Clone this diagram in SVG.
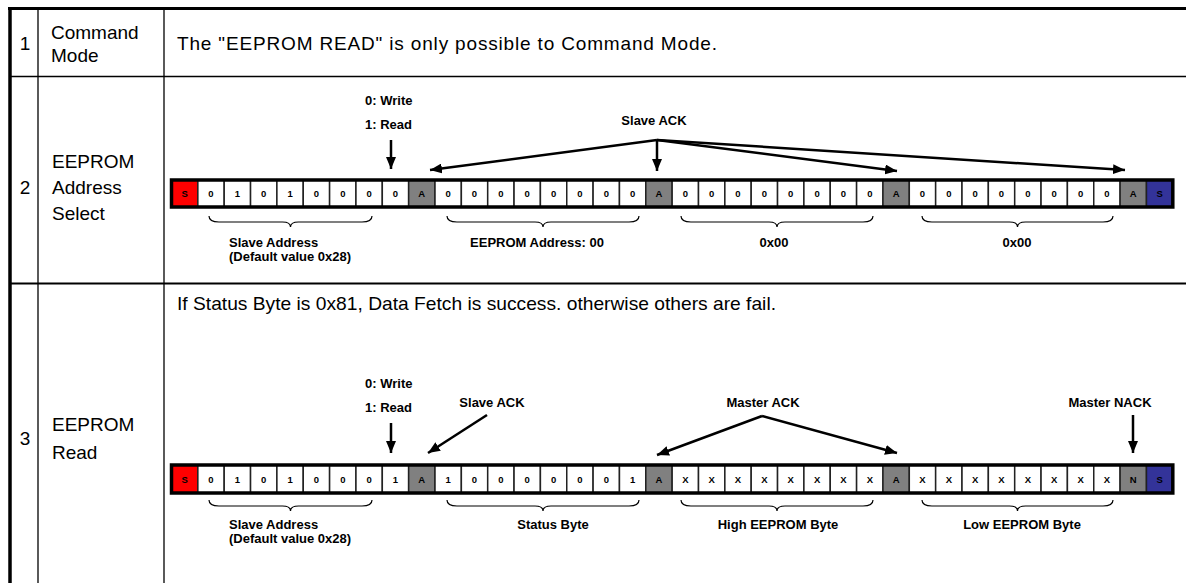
<svg xmlns="http://www.w3.org/2000/svg" width="1186" height="583" viewBox="0 0 1186 583">
<style>
.tbl{stroke:#000;fill:none}
.tt{font-family:"Liberation Sans",Arial,sans-serif;font-size:19px;fill:#000}
.lb{font-family:"Liberation Sans",Arial,sans-serif;font-size:13px;font-weight:bold;fill:#000}
.ct{font-family:"Liberation Sans",Arial,sans-serif;font-size:9.5px;font-weight:bold;fill:#000;text-anchor:middle}
.w{fill:#fff;stroke:#222;stroke-width:1.5}
.a{fill:#808080;stroke:#222;stroke-width:1.5}
.r{fill:#ff0000;stroke:#222;stroke-width:1.5}
.b{fill:#333399;stroke:#222;stroke-width:1.5}
.fr{fill:none;stroke:#000;stroke-width:3.5}
.br{fill:none;stroke:#000;stroke-width:1.2}
.ar{fill:none;stroke:#000;stroke-width:2.5;marker-end:url(#ah)}
</style>
<defs>
<marker id="ah" viewBox="0 0 12 10" refX="12" refY="5" markerWidth="12" markerHeight="10" markerUnits="userSpaceOnUse" orient="auto">
<path d="M0,0 L12,5 L0,10 Z" fill="#000"/>
</marker>
</defs>
<rect width="1186" height="583" fill="#fff"/>
<g id="table">
<line class="tbl" x1="8" y1="8.5" x2="1186" y2="8.5" stroke-width="3"/>
<line class="tbl" x1="10" y1="7" x2="10" y2="583" stroke-width="3.5"/>
<line class="tbl" x1="38" y1="8" x2="38" y2="583" stroke-width="1.3"/>
<line class="tbl" x1="164" y1="8" x2="164" y2="583" stroke-width="1.3"/>
<line class="tbl" x1="10" y1="76.5" x2="1186" y2="76.5" stroke-width="1.6"/>
<line class="tbl" x1="10" y1="283.5" x2="1186" y2="283.5" stroke-width="2"/>
</g>
<g id="row1">
<text class="tt" x="25" y="50" text-anchor="middle">1</text>
<text class="tt" x="51" y="39">Command</text>
<text class="tt" x="51" y="62">Mode</text>
<text class="tt" x="177" y="50" textLength="540" lengthAdjust="spacing">The "EEPROM READ" is only possible to Command Mode.</text>
</g>
<g id="row2-labels">
<text class="tt" x="25" y="194" text-anchor="middle">2</text>
<text class="tt" x="52" y="168">EEPROM</text>
<text class="tt" x="52" y="194">Address</text>
<text class="tt" x="52" y="220">Select</text>
</g>
<g id="row3-labels">
<text class="tt" x="25" y="445" text-anchor="middle">3</text>
<text class="tt" x="52" y="431">EEPROM</text>
<text class="tt" x="52" y="459">Read</text>
<text class="tt" x="177" y="310" textLength="599" lengthAdjust="spacingAndGlyphs">If Status Byte is 0x81, Data Fetch is success. otherwise others are fail.</text>
</g>
<g id="strip2">
<rect class="r" x="171.5" y="180" width="26.35" height="27"/>
<rect class="w" x="197.85" y="180" width="26.35" height="27"/>
<rect class="w" x="224.2" y="180" width="26.35" height="27"/>
<rect class="w" x="250.55" y="180" width="26.35" height="27"/>
<rect class="w" x="276.9" y="180" width="26.35" height="27"/>
<rect class="w" x="303.25" y="180" width="26.35" height="27"/>
<rect class="w" x="329.6" y="180" width="26.35" height="27"/>
<rect class="w" x="355.95" y="180" width="26.35" height="27"/>
<rect class="w" x="382.3" y="180" width="26.35" height="27"/>
<rect class="a" x="408.65" y="180" width="26.35" height="27"/>
<rect class="w" x="435" y="180" width="26.35" height="27"/>
<rect class="w" x="461.35" y="180" width="26.35" height="27"/>
<rect class="w" x="487.7" y="180" width="26.35" height="27"/>
<rect class="w" x="514.05" y="180" width="26.35" height="27"/>
<rect class="w" x="540.4" y="180" width="26.35" height="27"/>
<rect class="w" x="566.75" y="180" width="26.35" height="27"/>
<rect class="w" x="593.1" y="180" width="26.35" height="27"/>
<rect class="w" x="619.45" y="180" width="26.35" height="27"/>
<rect class="a" x="645.8" y="180" width="26.35" height="27"/>
<rect class="w" x="672.15" y="180" width="26.35" height="27"/>
<rect class="w" x="698.5" y="180" width="26.35" height="27"/>
<rect class="w" x="724.85" y="180" width="26.35" height="27"/>
<rect class="w" x="751.2" y="180" width="26.35" height="27"/>
<rect class="w" x="777.55" y="180" width="26.35" height="27"/>
<rect class="w" x="803.9" y="180" width="26.35" height="27"/>
<rect class="w" x="830.25" y="180" width="26.35" height="27"/>
<rect class="w" x="856.6" y="180" width="26.35" height="27"/>
<rect class="a" x="882.95" y="180" width="26.35" height="27"/>
<rect class="w" x="909.3" y="180" width="26.35" height="27"/>
<rect class="w" x="935.65" y="180" width="26.35" height="27"/>
<rect class="w" x="962" y="180" width="26.35" height="27"/>
<rect class="w" x="988.35" y="180" width="26.35" height="27"/>
<rect class="w" x="1014.7" y="180" width="26.35" height="27"/>
<rect class="w" x="1041.05" y="180" width="26.35" height="27"/>
<rect class="w" x="1067.4" y="180" width="26.35" height="27"/>
<rect class="w" x="1093.75" y="180" width="26.35" height="27"/>
<rect class="a" x="1120.1" y="180" width="26.35" height="27"/>
<rect class="b" x="1146.45" y="180" width="26.35" height="27"/>
<rect class="fr" x="171.5" y="180" width="1001.3" height="27"/>
<text class="ct" y="197"><tspan x="184.7">S</tspan><tspan x="211">0</tspan><tspan x="237.4">1</tspan><tspan x="263.7">0</tspan><tspan x="290.1">1</tspan><tspan x="316.4">0</tspan><tspan x="342.8">0</tspan><tspan x="369.1">0</tspan><tspan x="395.5">0</tspan><tspan x="421.8">A</tspan><tspan x="448.2">0</tspan><tspan x="474.5">0</tspan><tspan x="500.9">0</tspan><tspan x="527.2">0</tspan><tspan x="553.6">0</tspan><tspan x="579.9">0</tspan><tspan x="606.3">0</tspan><tspan x="632.6">0</tspan><tspan x="659">A</tspan><tspan x="685.3">0</tspan><tspan x="711.7">0</tspan><tspan x="738">0</tspan><tspan x="764.4">0</tspan><tspan x="790.7">0</tspan><tspan x="817.1">0</tspan><tspan x="843.4">0</tspan><tspan x="869.8">0</tspan><tspan x="896.1">A</tspan><tspan x="922.5">0</tspan><tspan x="948.8">0</tspan><tspan x="975.2">0</tspan><tspan x="1001.5">0</tspan><tspan x="1027.9">0</tspan><tspan x="1054.2">0</tspan><tspan x="1080.6">0</tspan><tspan x="1106.9">0</tspan><tspan x="1133.3">A</tspan><tspan x="1159.6">S</tspan></text>
</g>
<g id="strip3">
<rect class="r" x="171.5" y="465" width="26.35" height="28"/>
<rect class="w" x="197.85" y="465" width="26.35" height="28"/>
<rect class="w" x="224.2" y="465" width="26.35" height="28"/>
<rect class="w" x="250.55" y="465" width="26.35" height="28"/>
<rect class="w" x="276.9" y="465" width="26.35" height="28"/>
<rect class="w" x="303.25" y="465" width="26.35" height="28"/>
<rect class="w" x="329.6" y="465" width="26.35" height="28"/>
<rect class="w" x="355.95" y="465" width="26.35" height="28"/>
<rect class="w" x="382.3" y="465" width="26.35" height="28"/>
<rect class="a" x="408.65" y="465" width="26.35" height="28"/>
<rect class="w" x="435" y="465" width="26.35" height="28"/>
<rect class="w" x="461.35" y="465" width="26.35" height="28"/>
<rect class="w" x="487.7" y="465" width="26.35" height="28"/>
<rect class="w" x="514.05" y="465" width="26.35" height="28"/>
<rect class="w" x="540.4" y="465" width="26.35" height="28"/>
<rect class="w" x="566.75" y="465" width="26.35" height="28"/>
<rect class="w" x="593.1" y="465" width="26.35" height="28"/>
<rect class="w" x="619.45" y="465" width="26.35" height="28"/>
<rect class="a" x="645.8" y="465" width="26.35" height="28"/>
<rect class="w" x="672.15" y="465" width="26.35" height="28"/>
<rect class="w" x="698.5" y="465" width="26.35" height="28"/>
<rect class="w" x="724.85" y="465" width="26.35" height="28"/>
<rect class="w" x="751.2" y="465" width="26.35" height="28"/>
<rect class="w" x="777.55" y="465" width="26.35" height="28"/>
<rect class="w" x="803.9" y="465" width="26.35" height="28"/>
<rect class="w" x="830.25" y="465" width="26.35" height="28"/>
<rect class="w" x="856.6" y="465" width="26.35" height="28"/>
<rect class="a" x="882.95" y="465" width="26.35" height="28"/>
<rect class="w" x="909.3" y="465" width="26.35" height="28"/>
<rect class="w" x="935.65" y="465" width="26.35" height="28"/>
<rect class="w" x="962" y="465" width="26.35" height="28"/>
<rect class="w" x="988.35" y="465" width="26.35" height="28"/>
<rect class="w" x="1014.7" y="465" width="26.35" height="28"/>
<rect class="w" x="1041.05" y="465" width="26.35" height="28"/>
<rect class="w" x="1067.4" y="465" width="26.35" height="28"/>
<rect class="w" x="1093.75" y="465" width="26.35" height="28"/>
<rect class="a" x="1120.1" y="465" width="26.35" height="28"/>
<rect class="b" x="1146.45" y="465" width="26.35" height="28"/>
<rect class="fr" x="171.5" y="465" width="1001.3" height="28"/>
<text class="ct" y="482.5"><tspan x="184.7">S</tspan><tspan x="211">0</tspan><tspan x="237.4">1</tspan><tspan x="263.7">0</tspan><tspan x="290.1">1</tspan><tspan x="316.4">0</tspan><tspan x="342.8">0</tspan><tspan x="369.1">0</tspan><tspan x="395.5">1</tspan><tspan x="421.8">A</tspan><tspan x="448.2">1</tspan><tspan x="474.5">0</tspan><tspan x="500.9">0</tspan><tspan x="527.2">0</tspan><tspan x="553.6">0</tspan><tspan x="579.9">0</tspan><tspan x="606.3">0</tspan><tspan x="632.6">1</tspan><tspan x="659">A</tspan><tspan x="685.3">X</tspan><tspan x="711.7">X</tspan><tspan x="738">X</tspan><tspan x="764.4">X</tspan><tspan x="790.7">X</tspan><tspan x="817.1">X</tspan><tspan x="843.4">X</tspan><tspan x="869.8">X</tspan><tspan x="896.1">A</tspan><tspan x="922.5">X</tspan><tspan x="948.8">X</tspan><tspan x="975.2">X</tspan><tspan x="1001.5">X</tspan><tspan x="1027.9">X</tspan><tspan x="1054.2">X</tspan><tspan x="1080.6">X</tspan><tspan x="1106.9">X</tspan><tspan x="1133.3">N</tspan><tspan x="1159.6">S</tspan></text>
</g>
<g id="connectors">
<line class="ar" x1="391" y1="140" x2="391" y2="169"/>
<line class="ar" x1="657" y1="140" x2="430" y2="170"/>
<line class="ar" x1="657" y1="140" x2="657" y2="171"/>
<line class="ar" x1="657" y1="140" x2="897" y2="171"/>
<line class="ar" x1="657" y1="140" x2="1125" y2="170"/>
<line class="ar" x1="391" y1="423" x2="391" y2="453"/>
<line class="ar" x1="487" y1="415" x2="428" y2="453"/>
<line class="ar" x1="762" y1="416" x2="657" y2="455"/>
<line class="ar" x1="762" y1="416" x2="897" y2="453"/>
<line class="ar" x1="1133" y1="415" x2="1133" y2="453"/>
</g>
<g id="braces">
<path class="br" d="M209,216 Q209,222 219,222 L282.5,222 Q290.5,222 290.5,227 Q290.5,222 298.5,222 L362,222 Q372,222 372,216"/>
<path class="br" d="M447,216 Q447,222 457,222 L535,222 Q543,222 543,227 Q543,222 551,222 L629,222 Q639,222 639,216"/>
<path class="br" d="M681,216 Q681,222 691,222 L769,222 Q777,222 777,227 Q777,222 785,222 L863,222 Q873,222 873,216"/>
<path class="br" d="M922,216 Q922,222 932,222 L1009.5,222 Q1017.5,222 1017.5,227 Q1017.5,222 1025.5,222 L1103,222 Q1113,222 1113,216"/>
<path class="br" d="M209,500 Q209,506 219,506 L282.5,506 Q290.5,506 290.5,511 Q290.5,506 298.5,506 L362,506 Q372,506 372,500"/>
<path class="br" d="M447,500 Q447,506 457,506 L535,506 Q543,506 543,511 Q543,506 551,506 L629,506 Q639,506 639,500"/>
<path class="br" d="M681,500 Q681,506 691,506 L769,506 Q777,506 777,511 Q777,506 785,506 L863,506 Q873,506 873,500"/>
<path class="br" d="M922,500 Q922,506 932,506 L1009.5,506 Q1017.5,506 1017.5,511 Q1017.5,506 1025.5,506 L1103,506 Q1113,506 1113,500"/>
</g>
<g id="annotations">
<text class="lb" x="365" y="105">0: Write</text>
<text class="lb" x="365" y="129">1: Read</text>
<text class="lb" x="654" y="125" text-anchor="middle">Slave ACK</text>
<text class="lb" x="229" y="247">Slave Address</text>
<text class="lb" x="229" y="261">(Default value 0x28)</text>
<text class="lb" x="537" y="247" text-anchor="middle">EEPROM Address: 00</text>
<text class="lb" x="774" y="247" text-anchor="middle">0x00</text>
<text class="lb" x="1017" y="247" text-anchor="middle">0x00</text>
<text class="lb" x="365" y="388">0: Write</text>
<text class="lb" x="365" y="412">1: Read</text>
<text class="lb" x="492" y="407" text-anchor="middle">Slave ACK</text>
<text class="lb" x="763" y="407" text-anchor="middle">Master ACK</text>
<text class="lb" x="1110" y="407" text-anchor="middle">Master NACK</text>
<text class="lb" x="229" y="529">Slave Address</text>
<text class="lb" x="229" y="543">(Default value 0x28)</text>
<text class="lb" x="553" y="529" text-anchor="middle">Status Byte</text>
<text class="lb" x="778" y="529" text-anchor="middle">High EEPROM Byte</text>
<text class="lb" x="1022" y="529" text-anchor="middle">Low EEPROM Byte</text>
</g>
</svg>
